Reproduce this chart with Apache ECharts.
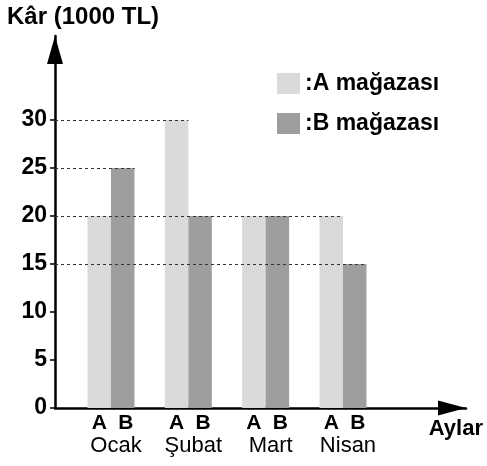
<!DOCTYPE html>
<html>
<head>
<meta charset="utf-8">
<script src="https://cdn.jsdelivr.net/npm/echarts@6/dist/echarts.min.js"></script>
<style>
  html, body { margin: 0; padding: 0; background: #fff; }
  #chart { width: 487px; height: 466px; }
</style>
</head>
<body>
<div id="chart"></div>
<script>
// data
const months = ['Ocak', 'Şubat', 'Mart', 'Nisan']
const stores = ['A', 'B']
const storeA = [20, 30, 20, 20]
const storeB = [25, 20, 20, 15]
const yTicks = [0, 5, 10, 15, 20, 25, 30]

const FONT = "'Liberation Sans', Arial, sans-serif"
const BAR_W = 23.5      // px
const BAND = 77.33      // px per month
const OFFSET = 0.724    // first month centre, in month units from the y axis
const GRID = { left: 55, right: 21, top: 36, bottom: 58 }
const X_MAX = (487 - GRID.left - GRID.right) / BAND
const Y_MAX = (466 - GRID.top - GRID.bottom) / 9.6

const chart = echarts.init(document.getElementById('chart'))

// dashed guides: from the y axis to the right edge of the last bar with that height
const levels = [...new Set(storeA.concat(storeB))].sort((a, b) => a - b)
const guides = levels.map((v) => {
  let end = 0
  months.forEach((m, i) => {
    if (storeA[i] === v) end = Math.max(end, i + OFFSET)
    if (storeB[i] === v) end = Math.max(end, i + OFFSET + BAR_W / BAND)
  })
  return [{ coord: [0, v] }, { coord: [end, v] }]
})

chart.setOption({
  animation: false,
  textStyle: { fontFamily: FONT },
  title: [
    {
      text: 'Kâr (1000 TL)',
      left: 7,
      top: 5,
      padding: 0,
      textStyle: { fontFamily: FONT, fontSize: 24, fontWeight: 'bold', color: '#000' }
    },
    {
      text: 'Aylar',
      right: 4,
      top: 418,
      padding: 0,
      textStyle: { fontFamily: FONT, fontSize: 22, fontWeight: 'bold', color: '#000' }
    }
  ],
  legend: {
    data: stores,
    orient: 'vertical',
    left: 277,
    top: 72,
    padding: 0,
    itemWidth: 23,
    itemHeight: 21,
    itemGap: 17,
    icon: 'rect',
    formatter: (name) => ':' + name + ' mağazası',
    textStyle: { fontFamily: FONT, fontSize: 23, fontWeight: 'bold', color: '#000' }
  },
  grid: GRID,
  xAxis: {
    type: 'value',
    min: 0,
    max: X_MAX,
    splitLine: { show: false },
    axisTick: { show: false },
    axisLine: {
      lineStyle: { color: '#000', width: 2.5 },
      symbol: ['none', 'triangle'],
      symbolSize: [15, 28],
      symbolOffset: [0, -14]
    },
    axisLabel: {
      customValues: months.map((m, i) => i + OFFSET),
      margin: 4,
      formatter: (v) => {
        const i = Math.round(v - OFFSET)
        return '{a|' + stores[0] + '}{a|' + stores[1] + '}\n{m|' + months[i] + '}'
      },
      rich: {
        a: { width: BAR_W, align: 'center', fontSize: 21, fontWeight: 'bold', lineHeight: 22, color: '#000', fontFamily: FONT, padding: [0, 0, 0, 3] },
        m: { fontSize: 22, lineHeight: 24, color: '#000', fontFamily: FONT, padding: [0, 0, 0, 10] }
      }
    }
  },
  yAxis: {
    type: 'value',
    min: 0,
    max: Y_MAX,
    splitLine: { show: false },
    axisLine: {
      lineStyle: { color: '#000', width: 2.5 },
      symbol: ['none', 'triangle'],
      symbolSize: [16, 28],
      symbolOffset: [0, -14]
    },
    axisTick: { customValues: yTicks, length: 5, lineStyle: { color: '#000', width: 1.5 } },
    axisLabel: {
      customValues: yTicks,
      margin: 8,
      fontSize: 23,
      fontWeight: 'bold',
      color: '#000',
      fontFamily: FONT
    }
  },
  series: [
    {
      name: 'guides',
      type: 'line',
      data: [],
      z: 1,
      markLine: {
        silent: true,
        symbol: 'none',
        label: { show: false },
        lineStyle: { type: [3, 3], color: '#333', width: 1 },
        data: guides
      }
    },
    {
      name: stores[0],
      type: 'bar',
      z: 2,
      barWidth: BAR_W,
      barGap: '0%',
      itemStyle: { color: '#d9dadc' },
      data: months.map((m, i) => [i + OFFSET, storeA[i]])
    },
    {
      name: stores[1],
      type: 'bar',
      z: 2,
      barWidth: BAR_W,
      barGap: '0%',
      itemStyle: { color: '#9d9ea0' },
      data: months.map((m, i) => [i + OFFSET, storeB[i]])
    }
  ]
})
</script>
</body>
</html>
